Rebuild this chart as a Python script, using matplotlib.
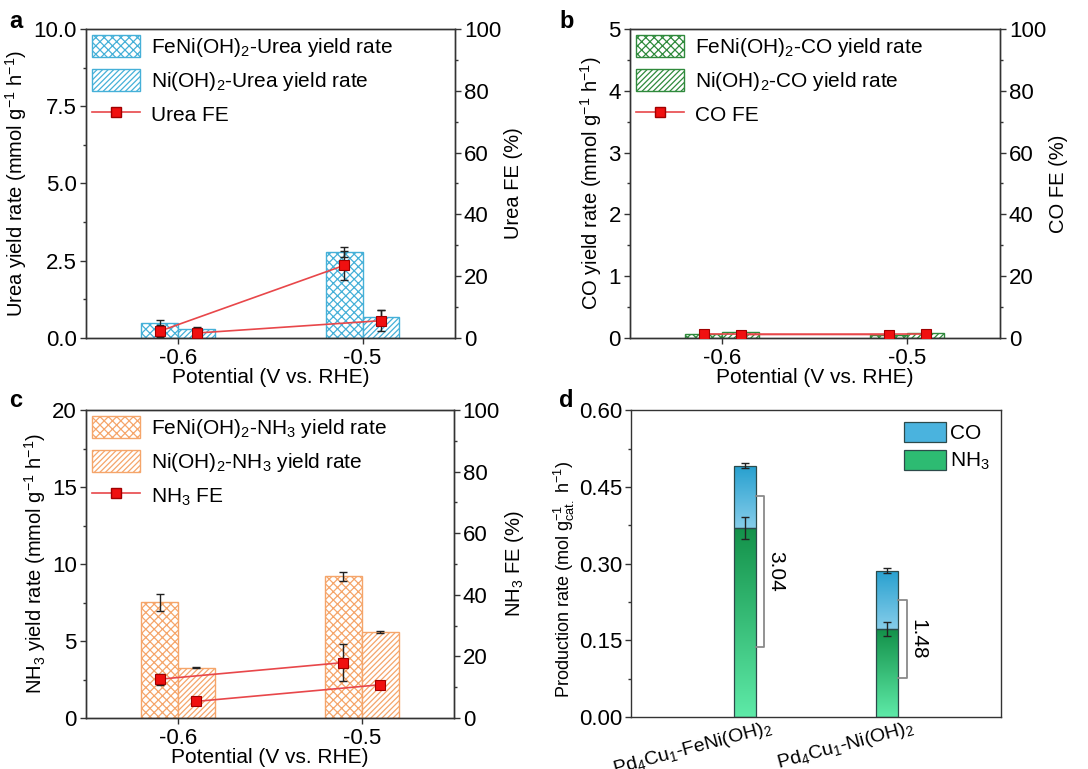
import numpy as np
import matplotlib
matplotlib.use("Agg")
import matplotlib.pyplot as plt
from matplotlib.patches import Patch
from matplotlib.lines import Line2D
from matplotlib.ticker import MultipleLocator, FormatStrFormatter
import matplotlib.transforms as mtransforms

plt.rcParams['font.family'] = ['Liberation Sans', 'DejaVu Sans']
plt.rcParams['mathtext.fontset'] = 'custom'
plt.rcParams['mathtext.rm'] = 'Liberation Sans'
plt.rcParams['mathtext.it'] = 'Liberation Sans'
plt.rcParams['mathtext.default'] = 'regular'
plt.rcParams['hatch.linewidth'] = 0.9
plt.rcParams['axes.edgecolor'] = '#333333'

# ---- data ----
potentials = [-0.6, -0.5]

urea_feni = [0.47, 2.78]
urea_feni_err = [0.12, 0.15]
urea_ni = [0.29, 0.68]
urea_ni_err = [0.06, 0.22]
urea_fe_feni = [2.2, 23.5]
urea_fe_feni_err = [2.0, 4.8]
urea_fe_ni = [1.6, 5.6]
urea_fe_ni_err = [1.5, 3.5]

co_feni = [0.07, 0.05]
co_feni_err = [0.01, 0.01]
co_ni = [0.09, 0.08]
co_ni_err = [0.01, 0.01]
co_fe_feni = [1.3, 1.1]
co_fe_feni_err = [0.3, 0.3]
co_fe_ni = [1.1, 1.3]
co_fe_ni_err = [0.3, 0.3]

nh3_feni = [7.52, 9.19]
nh3_feni_err = [0.55, 0.28]
nh3_ni = [3.27, 5.59]
nh3_ni_err = [0.04, 0.08]
nh3_fe_feni = [12.6, 18.0]
nh3_fe_feni_err = [1.8, 6.0]
nh3_fe_ni = [5.4, 10.8]
nh3_fe_ni_err = [1.0, 1.0]

catalysts = ['Pd$_4$Cu$_1$-FeNi(OH)$_2$', 'Pd$_4$Cu$_1$-Ni(OH)$_2$']
prod_nh3 = [0.370, 0.172]
prod_nh3_err = [0.022, 0.013]
prod_total = [0.491, 0.286]
prod_total_err = [0.005, 0.005]
ratio_labels = ['3.04', '1.48']
bracket_top = [0.433, 0.228]
bracket_bot = [0.137, 0.076]

FS_TICK = 16
FS_LAB = 14.5
FS_LEG = 15
RED_LINE = '#e8474a'
RED_MK = '#f01010'
HATCH_X = 'xxxx'
HATCH_D = '//////'


def set_ticks(ax, axis='both'):
    ax.tick_params(axis=axis, which='both', direction='out', labelsize=FS_TICK,
                   width=1.0, color='#333333', pad=2)
    ax.tick_params(axis=axis, which='major', length=4.5)
    ax.tick_params(axis=axis, which='minor', length=2.5)


def style_axes(ax, ax2):
    set_ticks(ax)
    ax.tick_params(right=False, top=False)
    set_ticks(ax2, 'y')
    ax2.set_ylim(0, 100)
    ax2.yaxis.set_major_locator(MultipleLocator(20))
    ax2.yaxis.set_minor_locator(MultipleLocator(10))
    ax.set_xlim(-0.65, -0.45)
    ax.set_xticks(potentials)
    ax.set_xticklabels(['-0.6', '-0.5'])
    ax.tick_params(axis='x', pad=3)
    for sp in list(ax.spines.values()) + list(ax2.spines.values()):
        sp.set_linewidth(1.0)


def yield_panel(ax, feni, feni_err, ni, ni_err, fe_feni, fe_feni_err, fe_ni, fe_ni_err,
                color, names, ylabel, y2label, ymax, major, minor):
    x = np.array(potentials)
    w = 0.02
    ax.bar(x, feni, width=-w, align='edge', facecolor='white', edgecolor=color,
           hatch=HATCH_X, linewidth=1.0)
    ax.bar(x, ni, width=w, align='edge', facecolor='white', edgecolor=color,
           hatch=HATCH_D, linewidth=1.0)
    ax.errorbar(x - w / 2, feni, yerr=feni_err, fmt='none', ecolor='#222222',
                elinewidth=1.0, capsize=3)
    ax.errorbar(x + w / 2, ni, yerr=ni_err, fmt='none', ecolor='#222222',
                elinewidth=1.0, capsize=3)
    ax.set_ylim(0, ymax)
    ax.yaxis.set_major_locator(MultipleLocator(major))
    ax.yaxis.set_minor_locator(MultipleLocator(minor))
    ax.set_ylabel(ylabel, fontsize=FS_LAB, labelpad=3)
    ax.set_xlabel('Potential (V vs. RHE)', fontsize=FS_LEG, labelpad=-1)

    ax2 = ax.twinx()
    for xs, ys, es in [(x - w / 2, fe_feni, fe_feni_err), (x + w / 2, fe_ni, fe_ni_err)]:
        ax2.plot(xs, ys, color=RED_LINE, lw=1.2, zorder=3)
        ax2.errorbar(xs, ys, yerr=es, fmt='none', ecolor='#222222', elinewidth=1.0,
                     capsize=3, zorder=4)
        ax2.plot(xs, ys, ls='none', marker='s', ms=7.5, mfc=RED_MK, mec='#a00000',
                 mew=0.8, zorder=5)
    ax2.set_ylabel(y2label, fontsize=FS_LAB, labelpad=2)
    style_axes(ax, ax2)

    handles = [Patch(facecolor='white', edgecolor=color, hatch=HATCH_X, lw=1.0),
               Patch(facecolor='white', edgecolor=color, hatch=HATCH_D, lw=1.0),
               Line2D([], [], color=RED_LINE, lw=1.2, marker='s', ms=7.5, mfc=RED_MK,
                      mec='#a00000')]
    ax2.legend(handles, names, loc='upper left', frameon=False, fontsize=FS_LEG,
               handlelength=2.3, handleheight=1.2, handletextpad=0.5,
               borderaxespad=0.2, borderpad=0.1, labelspacing=0.5)


fig = plt.figure(figsize=(10.88, 7.69), dpi=100)

ax_a = fig.add_axes([0.079, 0.5605, 0.339, 0.4018])
yield_panel(ax_a, urea_feni, urea_feni_err, urea_ni, urea_ni_err,
            urea_fe_feni, urea_fe_feni_err, urea_fe_ni, urea_fe_ni_err,
            '#45b0d8',
            ['FeNi(OH)$_2$-Urea yield rate', 'Ni(OH)$_2$-Urea yield rate', 'Urea FE'],
            'Urea yield rate (mmol g$^{-1}$ h$^{-1}$)', 'Urea FE (%)', 10, 2.5, 1.25)
ax_a.yaxis.set_major_formatter(FormatStrFormatter('%.1f'))

ax_b = fig.add_axes([0.579, 0.5605, 0.340, 0.4018])
yield_panel(ax_b, co_feni, co_feni_err, co_ni, co_ni_err,
            co_fe_feni, co_fe_feni_err, co_fe_ni, co_fe_ni_err,
            '#2f8a3c',
            ['FeNi(OH)$_2$-CO yield rate', 'Ni(OH)$_2$-CO yield rate', 'CO FE'],
            'CO yield rate (mmol g$^{-1}$ h$^{-1}$)', 'CO FE (%)', 5, 1, 0.5)

ax_c = fig.add_axes([0.079, 0.0663, 0.338, 0.4005])
yield_panel(ax_c, nh3_feni, nh3_feni_err, nh3_ni, nh3_ni_err,
            nh3_fe_feni, nh3_fe_feni_err, nh3_fe_ni, nh3_fe_ni_err,
            '#f5a56a',
            ['FeNi(OH)$_2$-NH$_3$ yield rate', 'Ni(OH)$_2$-NH$_3$ yield rate', 'NH$_3$ FE'],
            'NH$_3$ yield rate (mmol g$^{-1}$ h$^{-1}$)', 'NH$_3$ FE (%)', 20, 5, 2.5)

# ---- panel d ----
ax_d = fig.add_axes([0.58, 0.0676, 0.340, 0.399])
xd = np.arange(len(catalysts))
bw = 0.15
co_part = np.array(prod_total) - np.array(prod_nh3)
bars_nh3 = ax_d.bar(xd, prod_nh3, width=bw, facecolor='none', edgecolor='#2c4a4a', lw=0.9, zorder=3)
bars_co = ax_d.bar(xd, co_part, bottom=prod_nh3, width=bw, facecolor='none',
                   edgecolor='#2c4a4a', lw=0.9, zorder=3)


def gradient_fill(ax, bars, top_color, bot_color):
    cmap = matplotlib.colors.LinearSegmentedColormap.from_list('g', [bot_color, top_color])
    grad = np.linspace(0, 1, 256).reshape(-1, 1)
    for b in bars:
        x0, y0 = b.get_x(), b.get_y()
        im = ax.imshow(grad, cmap=cmap, aspect='auto', origin='lower',
                       extent=(x0, x0 + b.get_width(), y0, y0 + b.get_height()), zorder=2)
        im.set_clip_path(b)


gradient_fill(ax_d, bars_nh3, '#139149', '#5eeaa8')
gradient_fill(ax_d, bars_co, '#27a0cf', '#86cdea')
ax_d.errorbar(xd, prod_nh3, yerr=prod_nh3_err, fmt='none', ecolor='#222222',
              elinewidth=1.0, capsize=3, zorder=4)
ax_d.errorbar(xd, prod_total, yerr=prod_total_err, fmt='none', ecolor='#222222',
              elinewidth=1.0, capsize=3, zorder=4)

bl = 0.063
for i in range(len(catalysts)):
    xr = xd[i] + bw / 2
    ax_d.plot([xr, xr + bl, xr + bl, xr], [bracket_top[i], bracket_top[i], bracket_bot[i], bracket_bot[i]],
              color='#8a8a8a', lw=1.3, zorder=3)
    ax_d.text(xr + bl + 0.012, (bracket_top[i] + bracket_bot[i]) / 2, ratio_labels[i],
              rotation=-90, ha='left', va='center', fontsize=15)

ax_d.set_xlim(-0.8, 1.8)
ax_d.set_ylim(0, 0.60)
ax_d.yaxis.set_major_locator(MultipleLocator(0.15))
ax_d.yaxis.set_minor_locator(MultipleLocator(0.075))
ax_d.yaxis.set_major_formatter(FormatStrFormatter('%.2f'))
ax_d.set_xticks(xd)
ax_d.set_xticklabels([])
ax_d.tick_params(axis='x', length=0)
# rotated category labels, shifted as in the original
lab_trans = mtransforms.blended_transform_factory(ax_d.transData, ax_d.transAxes) + \
    mtransforms.ScaledTranslation(0.30, 0.0, fig.dpi_scale_trans)
for i, name in enumerate(catalysts):
    ax_d.text(xd[i], 0, name, rotation=15, ha='right', va='top', fontsize=14,
              transform=lab_trans)
set_ticks(ax_d, 'y')
ax_d.set_ylabel('Production rate (mol g$_{cat.}^{-1}$ h$^{-1}$)', fontsize=13)
ax_d.yaxis.set_label_coords(-0.145, 0.45)
leg_handles = [Patch(facecolor='#4ab3de', edgecolor='#2c4a4a', lw=0.9),
               Patch(facecolor='#2dbb72', edgecolor='#2c4a4a', lw=0.9)]
ax_d.legend(leg_handles, ['CO', 'NH$_3$'], loc='upper right', frameon=False, fontsize=FS_LEG,
            handlelength=2.0, handleheight=1.1, handletextpad=0.2, borderaxespad=0.15,
            labelspacing=0.35)
for sp in ax_d.spines.values():
    sp.set_linewidth(1.0)

# panel letters
for lab, px, py in [('a', 16, 22), ('b', 567, 22), ('c', 16, 400), ('d', 566, 400)]:
    fig.text(px / 1088, 1 - py / 769, lab, fontsize=17, fontweight='bold',
             ha='center', va='center')

fig.savefig('out.png', dpi=100)
